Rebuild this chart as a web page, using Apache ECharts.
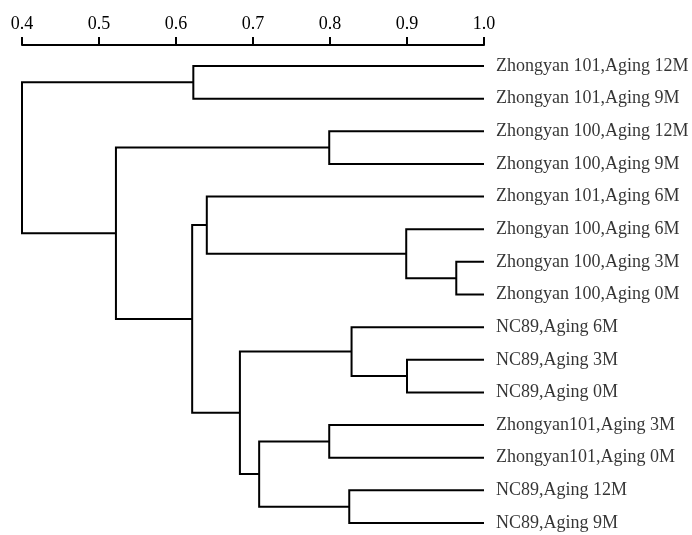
<!DOCTYPE html>
<html>
<head>
<meta charset="utf-8">
<script src="https://cdn.jsdelivr.net/npm/echarts@6/dist/echarts.min.js"></script>
<style>html,body{margin:0;padding:0;background:#fff}#c{width:692px;height:535px}</style>
</head>
<body>
<div id="c"></div>
<script>
// Leaf labels, top to bottom
const leaves = [
  'Zhongyan 101,Aging 12M',
  'Zhongyan 101,Aging 9M',
  'Zhongyan 100,Aging 12M',
  'Zhongyan 100,Aging 9M',
  'Zhongyan 101,Aging 6M',
  'Zhongyan 100,Aging 6M',
  'Zhongyan 100,Aging 3M',
  'Zhongyan 100,Aging 0M',
  'NC89,Aging 6M',
  'NC89,Aging 3M',
  'NC89,Aging 0M',
  'Zhongyan101,Aging 3M',
  'Zhongyan101,Aging 0M',
  'NC89,Aging 12M',
  'NC89,Aging 9M'
];
// Merges: [child A, child B] (indices; nodes >= 15 are earlier merges), and similarity level
const mergeA = [6, 5, 4, 9, 8, 11, 13, 20, 19, 17, 2, 25, 0, 27];
const mergeB = [7, 15, 16, 10, 18, 12, 14, 21, 22, 23, 3, 24, 1, 26];
const mergeLevel = [0.964, 0.899, 0.640, 0.900, 0.828, 0.799, 0.825, 0.708, 0.683, 0.621, 0.799, 0.522, 0.6225, 0.400];
const leafLevel = 1.0;
const xTicks = [0.4, 0.5, 0.6, 0.7, 0.8, 0.9, 1.0];

// Build node table
const nodeY = leaves.map((_, i) => i);
const nodeH = leaves.map(() => leafLevel);
const segData = [];
for (let k = 0; k < mergeA.length; k++) {
  const a = mergeA[k], b = mergeB[k], h = mergeLevel[k];
  segData.push([h, nodeY[a], nodeY[b], nodeH[a], nodeH[b]]);
  nodeY.push((nodeY[a] + nodeY[b]) / 2);
  nodeH.push(h);
}
const leafData = leaves.map((n, i) => [leafLevel, i, n]);

const chart = echarts.init(document.getElementById('c'), null, {renderer: 'canvas'});
const font = 'Liberation Serif, Times New Roman, serif';
chart.setOption({
  animation: false,
  backgroundColor: '#fff',
  grid: {left: 22, right: 208, top: 45, bottom: 0, containLabel: false},
  xAxis: {
    type: 'value', position: 'top',
    min: xTicks[0], max: xTicks[xTicks.length - 1], interval: 0.1,
    axisLine: {show: true, onZero: false, lineStyle: {color: '#000', width: 2}},
    axisTick: {show: true, length: 8, lineStyle: {color: '#000', width: 2}},
    axisLabel: {color: '#000', fontSize: 18, fontFamily: font, margin: 12,
      formatter: v => v.toFixed(1)},
    splitLine: {show: false}
  },
  yAxis: {
    type: 'value', inverse: true, min: -0.643, max: 14.368, show: false
  },
  series: [
    {
      type: 'custom',
      data: segData,
      encode: {x: 0, y: 1},
      clip: false,
      silent: true,
      renderItem: function (params, api) {
        const h = api.value(0), ya = api.value(1), yb = api.value(2), ha = api.value(3), hb = api.value(4);
        const pts = [api.coord([ha, ya]), api.coord([h, ya]), api.coord([h, yb]), api.coord([hb, yb])];
        return {type: 'polyline', shape: {points: pts}, style: {stroke: '#000', lineWidth: 2, fill: null, lineJoin: 'miter'}};
      }
    },
    {
      type: 'scatter',
      data: leafData,
      symbolSize: 0,
      silent: true,
      clip: false,
      label: {
        show: true, position: 'right', distance: 12,
        formatter: p => p.data[2],
        color: '#000', fontSize: 18, fontFamily: font
      }
    }
  ]
});
</script>
</body>
</html>
